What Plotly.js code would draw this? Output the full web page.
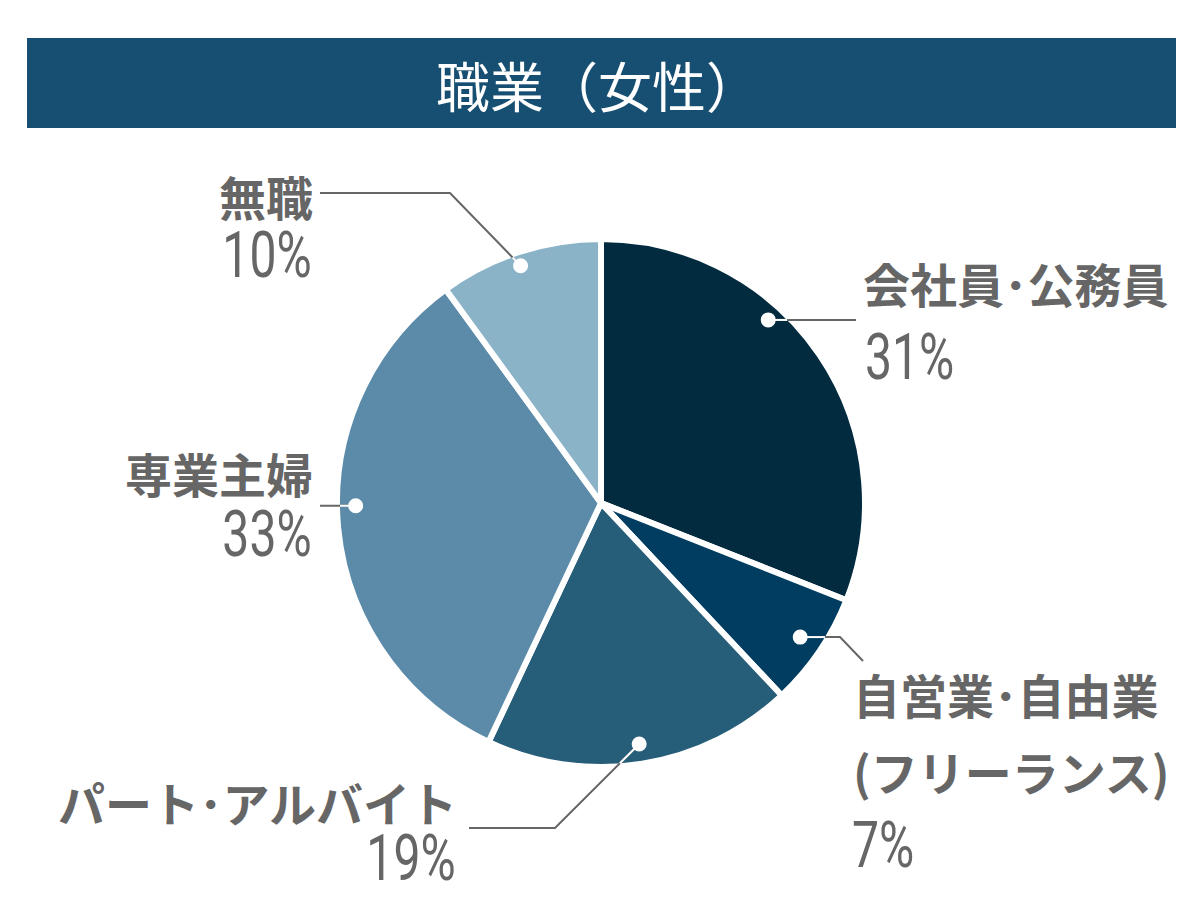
<!DOCTYPE html>
<html>
<head>
<meta charset="utf-8">
<script src="https://cdn.plot.ly/plotly-3.0.1.min.js"></script>
<style>
html,body{margin:0;padding:0;background:#fff;}
#chart{width:1201px;height:921px;}
</style>
</head>
<body>
<div id="chart"></div>
<script>
// ---- data ----
const categories = ["会社員･公務員", "自営業･自由業 (フリーランス)", "パート･アルバイト", "専業主婦", "無職"];
const shortNames = ["会社員･公務員", "自営業･自由業", "パート･アルバイト", "専業主婦", "無職"];
const subNames = [null, "(フリーランス)", null, null, null];
const values = [31, 7, 19, 33, 10];
const colors = ["#022b40", "#013d60", "#265d78", "#5b8ba9", "#8ab3c8"];
const chartTitle = "職業（女性）";

// ---- layout (pixels) ----
const W = 1201, H = 921;
const CX = 601, CY = 503, R = 264;   // pie geometry
const VISR = 261;                    // visible radius after white outline
const px = x => x / W;
const py = y => 1 - y / H;

// dot placement inside each slice: fraction of slice angle, fraction of radius
const dotFrac = [0.38, 0.49, 0.50, 0.54, 0.48];
const dotRad = [0.95, 0.92, 0.935, 0.94, 0.96];
// leader line elbow and end (pixels)
const elbows = [[856, null], [840, null], [555, 828], [320, null], [450, 193]];
const ends = [[856, null], [863, 661], [469, 828], [320, null], [320, 193]];
// label boxes
const labelPos = [
  {name:[861, 282, 'left'], pct:[863, 357, 'left']},
  {name:[851, 693, 'left'], sub:[851, 770, 'left'], pct:[850, 845, 'left']},
  {name:[459, 801, 'right'], pct:[458, 858, 'right']},
  {name:[315, 472, 'right'], pct:[314, 534, 'right']},
  {name:[315, 196, 'right'], pct:[314, 255, 'right']}
];

const total = values.reduce((a, b) => a + b, 0);
let cum = 0;
const dots = values.map((v, i) => {
  const a0 = cum / total * 360, a1 = (cum + v) / total * 360;
  cum += v;
  const ang = (a0 + (a1 - a0) * dotFrac[i]) * Math.PI / 180;
  const r = VISR * dotRad[i];
  return [CX + r * Math.sin(ang), CY - r * Math.cos(ang)];
});

const shapes = [];
// title bar
shapes.push({type:'rect', xref:'paper', yref:'paper', x0:px(27), x1:px(1176), y0:py(128), y1:py(38),
  fillcolor:'#174f72', line:{width:0}, layer:'below'});

function circleHit(p0, p1) {
  const dx = p1[0]-p0[0], dy = p1[1]-p0[1];
  const fx = p0[0]-CX, fy = p0[1]-CY;
  const a = dx*dx+dy*dy, b = 2*(fx*dx+fy*dy), c = fx*fx+fy*fy-VISR*VISR;
  const disc = b*b-4*a*c;
  if (disc < 0) return null;
  const t = (-b + Math.sqrt(disc)) / (2*a);
  if (t < 0 || t > 1) return null;
  return [p0[0]+t*dx, p0[1]+t*dy];
}

dots.forEach((d, i) => {
  const el = [elbows[i][0], elbows[i][1] === null ? d[1] : elbows[i][1]];
  const en = [ends[i][0], ends[i][1] === null ? d[1] : ends[i][1]];
  const path = `M ${px(d[0])} ${py(d[1])} L ${px(el[0])} ${py(el[1])} L ${px(en[0])} ${py(en[1])}`;
  shapes.push({type:'path', xref:'paper', yref:'paper', path:path, line:{color:'#666666', width:2}});
  const hit = circleHit(d, el);
  if (hit) {
    shapes.push({type:'line', xref:'paper', yref:'paper', x0:px(d[0]), y0:py(d[1]), x1:px(hit[0]), y1:py(hit[1]),
      line:{color:'#ffffff', width:2}});
  }
  const rr = 7.5;
  shapes.push({type:'circle', xref:'paper', yref:'paper', x0:px(d[0]-rr), x1:px(d[0]+rr), y0:py(d[1]+rr), y1:py(d[1]-rr),
    fillcolor:'#ffffff', line:{width:0}});
});

const jpFont = {family:'"Noto Sans CJK JP", sans-serif', size:47, color:'#666666', weight:700};
const numFont = {family:'Roboto, sans-serif', size:65, color:'#666666', weight:400};
const annotations = [];
const pctAnchors = {};
labelPos.forEach((lp, i) => {
  annotations.push({xref:'paper', yref:'paper', x:px(lp.name[0]), y:py(lp.name[1]), xanchor:lp.name[2], yanchor:'middle',
    text:shortNames[i], showarrow:false, font:jpFont});
  if (lp.sub) {
    annotations.push({xref:'paper', yref:'paper', x:px(lp.sub[0]), y:py(lp.sub[1]), xanchor:lp.sub[2], yanchor:'middle',
      text:subNames[i], showarrow:false, font:jpFont});
  }
  pctAnchors[annotations.length] = lp.pct[2];
  annotations.push({xref:'paper', yref:'paper', x:px(lp.pct[0]), y:py(lp.pct[1]), xanchor:lp.pct[2], yanchor:'middle',
    text:values[i] + '%', showarrow:false, font:numFont});
});
annotations.push({xref:'paper', yref:'paper', x:px(598), y:py(84), xanchor:'center', yanchor:'middle',
  text:chartTitle, showarrow:false, font:{family:'"Noto Sans CJK JP", sans-serif', size:54, color:'#ffffff', weight:400}});

const trace = {
  type:'pie', labels:categories, values:values, sort:false, direction:'clockwise', rotation:0,
  marker:{colors:colors, line:{color:'#ffffff', width:6}},
  textinfo:'none', hoverinfo:'skip', showlegend:false,
  domain:{x:[px(CX-R), px(CX+R)], y:[py(CY+R), py(CY-R)]}
};

const layout = {
  width:W, height:H, margin:{l:0, r:0, t:0, b:0},
  paper_bgcolor:'#ffffff', plot_bgcolor:'#ffffff',
  shapes:shapes, annotations:annotations, showlegend:false
};
Plotly.newPlot('chart', [trace], layout, {staticPlot:true, displayModeBar:false}).then(() => {
  // condense the percentage labels horizontally, like the reference's narrow numerals
  document.querySelectorAll('#chart g.annotation').forEach(g => {
    const idx = +g.getAttribute('data-index');
    if (pctAnchors[idx] === undefined) return;
    const t = g.querySelector('text');
    if (!t) return;
    t.style.transformBox = 'fill-box';
    t.style.transformOrigin = pctAnchors[idx] === 'right' ? 'right center' : 'left center';
    t.style.transform = 'scaleX(0.74)';
  });
});
</script>
</body>
</html>
